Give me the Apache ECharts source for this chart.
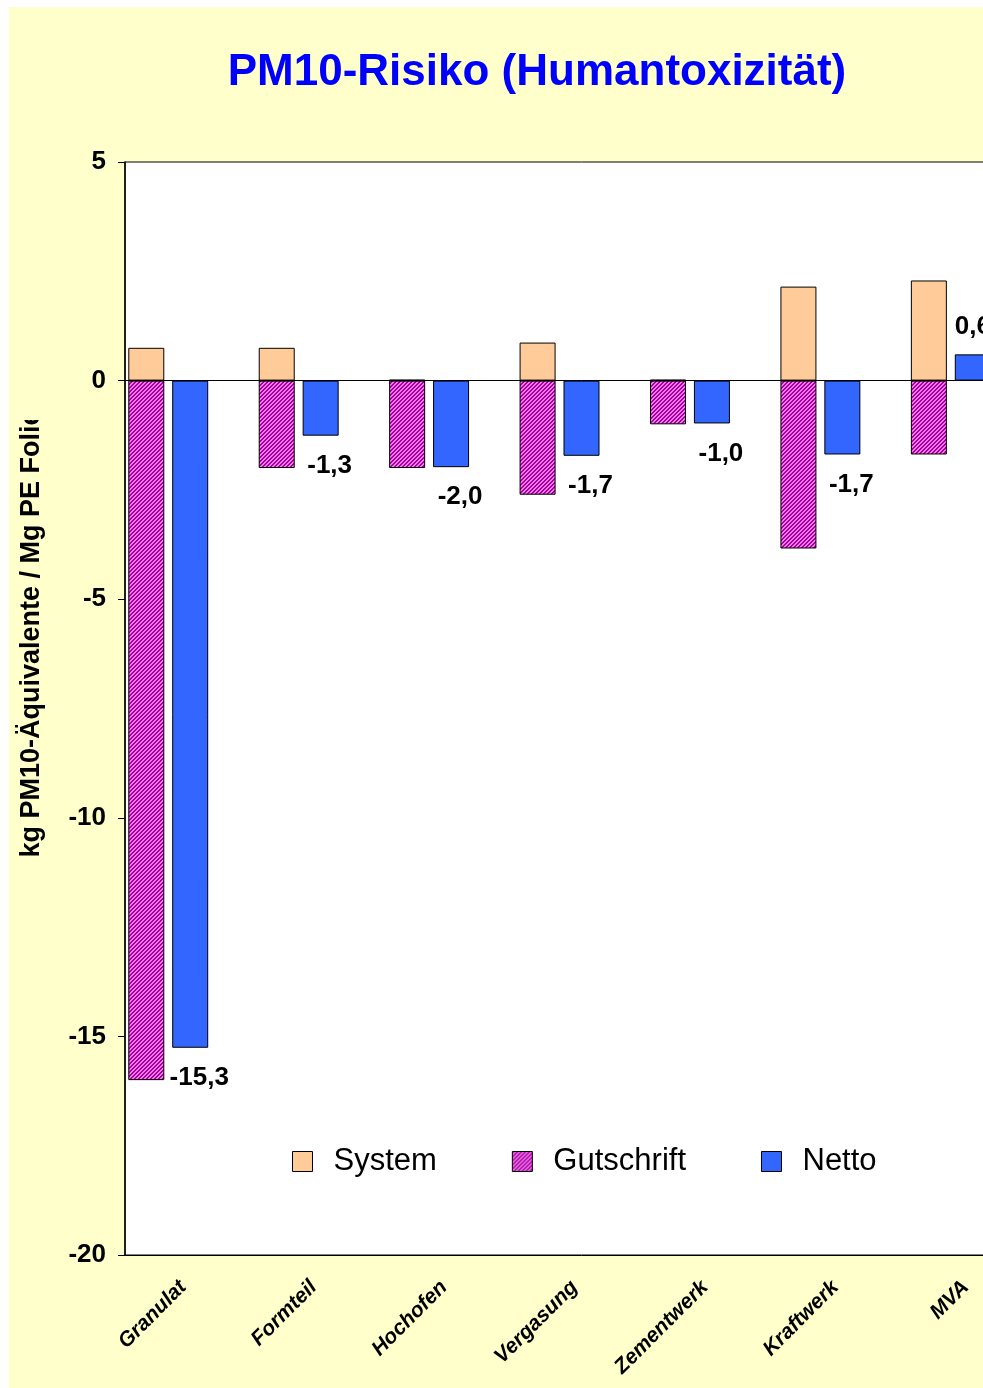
<!DOCTYPE html>
<html>
<head>
<meta charset="utf-8">
<script src="https://cdn.jsdelivr.net/npm/echarts@6/dist/echarts.min.js"></script>
<style>
html,body{margin:0;padding:0;background:#fff;overflow:hidden;width:983px;height:1388px;}
#c{position:absolute;left:9px;top:7px;width:1056px;height:1381px;}
</style>
</head>
<body>
<div id="c"></div>
<script>
const categories = ['Granulat','Formteil','Hochofen','Vergasung','Zementwerk','Kraftwerk','MVA'];
const systemValues = [0.75, 0.75, 0.02, 0.87, 0.02, 2.15, 2.29];
const gutschriftValues = [-16.0, -2.0, -2.0, -2.61, -1.0, -3.84, -1.69];
const nettoValues = [-15.26, -1.26, -1.98, -1.72, -0.98, -1.69, 0.6];
const yTicks = {min: -20, max: 5, interval: 5};
const titleText = 'PM10-Risiko (Humantoxizität)';
const yAxisTitle = 'kg PM10-Äquivalente / Mg PE Folie';

const FONT = 'Liberation Sans, Arial, sans-serif';

// hatch pattern for Gutschrift
const pc = document.createElement('canvas');
pc.width = 4; pc.height = 4;
const pctx = pc.getContext('2d');
for (let x = 0; x < 4; x++) {
  for (let y = 0; y < 4; y++) {
    pctx.fillStyle = ((x + y) % 4 < 2) ? '#990A99' : '#FF70F0';
    pctx.fillRect(x, y, 1, 1);
  }
}
const hatch = {image: pc, repeat: 'repeat'};

const chart = echarts.init(document.getElementById('c'));
const fmt = v => v.toFixed(1).replace('.', ',');

chart.setOption({
  backgroundColor: '#FFFFCC',
  animation: false,
  title: {
    text: titleText,
    left: 'center',
    top: 39,
    textStyle: {color: '#0000FF', fontSize: 44, fontWeight: 'bold', fontFamily: FONT}
  },
  grid: {
    left: 116, top: 155, width: 913, height: 1093,
    show: true, backgroundColor: '#FFFFFF', borderColor: '#000', borderWidth: 1,
    containLabel: false
  },
  legend: {
    data: ['System', 'Gutschrift', 'Netto'],
    left: 283, top: 1139, padding: 0,
    itemWidth: 20, itemHeight: 20, itemGap: 75,
    icon: 'rect',
    itemStyle: {borderColor: '#000', borderWidth: 1},
    textStyle: {fontSize: 31, fontFamily: FONT, color: '#000', padding: [0, 0, 0, 16]}
  },
  xAxis: {
    type: 'category',
    data: categories,
    axisLine: {onZero: false, lineStyle: {color: '#000', width: 1}},
    axisTick: {show: false},
    axisLabel: {
      rotate: 45, interval: 0, margin: 22,
      fontSize: 21, fontWeight: 'bold', fontStyle: 'italic', fontFamily: FONT, color: '#000',
      padding: [0, 10, 0, 0]
    }
  },
  yAxis: {
    type: 'value',
    min: yTicks.min, max: yTicks.max, interval: yTicks.interval,
    splitLine: {show: false},
    axisLine: {show: true, lineStyle: {color: '#000', width: 1.5}},
    axisTick: {show: true, inside: false, length: 7, lineStyle: {color: '#000'}},
    axisLabel: {margin: 19, fontSize: 26, fontWeight: 'bold', fontFamily: FONT, color: '#000'}
  },
  graphic: [
    {
      type: 'text', x: 23, y: 627, rotation: Math.PI / 2, z: 10,
      style: {text: yAxisTitle, font: 'bold 27px ' + FONT, fill: '#000', textAlign: 'center', textVerticalAlign: 'middle'}
    },
    {
      type: 'rect', x: 0, y: 0, z: 20,
      shape: {x: 0, y: 0, width: 50, height: 413},
      style: {fill: '#FFFFCC'}
    }
  ],
  series: [
    {
      name: 'System', type: 'bar', stack: 'a', barWidth: 36, barGap: '22%',
      data: systemValues,
      itemStyle: {color: '#FFCC99', borderColor: '#000', borderWidth: 1}
    },
    {
      name: 'Gutschrift', type: 'bar', stack: 'a', barWidth: 36, barGap: '22%',
      data: gutschriftValues,
      itemStyle: {color: hatch, borderColor: '#000', borderWidth: 1}
    },
    {
      name: 'Netto', type: 'bar', barWidth: 36, barGap: '22%',
      data: nettoValues.map(v => ({
        value: v,
        label: v >= 0 ? {position: 'top', offset: [0, -10]} : {position: 'bottom', offset: [9, 12]}
      })),
      itemStyle: {color: '#3366FF', borderColor: '#000', borderWidth: 1},
      label: {
        show: true, formatter: p => fmt(p.value),
        fontSize: 26, fontWeight: 'bold', fontFamily: FONT, color: '#000'
      },
      markLine: {
        silent: true, symbol: 'none', label: {show: false},
        lineStyle: {color: '#000', width: 1, type: 'solid'},
        data: [{yAxis: 0}]
      }
    },
    {
      name: 'spacer', type: 'bar', barWidth: 36, barGap: '22%',
      data: categories.map(() => null)
    }
  ]
});
</script>
</body>
</html>
